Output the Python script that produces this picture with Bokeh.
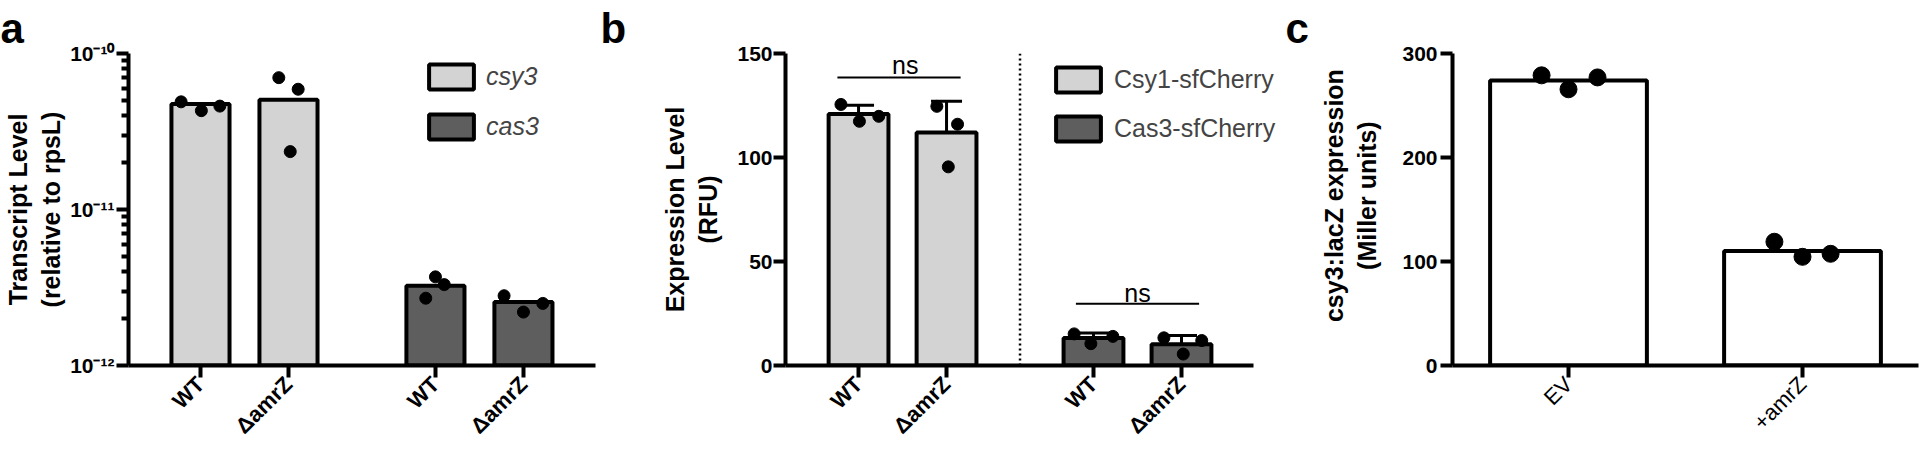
import math
import numpy as np
from bokeh.plotting import figure
from bokeh.models import (Range1d, FixedTicker, Label, Legend, LegendItem, Whisker, TeeHead,
                          Span, ColumnDataSource, CustomJSTickFormatter)
from bokeh.layouts import row
from bokeh.embed import file_html
from bokeh.resources import INLINE

# ---------------- data ----------------
# panel a (log scale transcript levels)
a_tick_labels = ["WT", "ΔamrZ", "WT", "ΔamrZ"]
a_series = ["csy3", "cas3"]
a_csy3_bar = [4.75e-11, 5.05e-11]
a_cas3_bar = [3.25e-12, 2.55e-12]
a_csy3_wt = [4.9e-11, 4.3e-11, 4.6e-11]
a_csy3_amrz = [7.0e-11, 5.9e-11, 2.35e-11]
a_cas3_wt = [2.7e-12, 3.7e-12, 3.3e-12]
a_cas3_amrz = [2.8e-12, 2.2e-12, 2.5e-12]

# panel b (RFU)
b_tick_labels = ["WT", "ΔamrZ", "WT", "ΔamrZ"]
b_series = ["Csy1-sfCherry", "Cas3-sfCherry"]
b_csy1_wt = [125.5, 117.4, 119.8]
b_csy1_amrz = [124.6, 116.0, 95.5]
b_cas3_wt = [15.2, 14.0, 10.5]
b_cas3_amrz = [13.3, 12.0, 5.5]

# panel c (Miller units)
c_tick_labels = ["EV", "+amrZ"]
c_bar = [274.0, 110.0]
c_ev = [279.0, 265.6, 277.0]
c_amrz = [119.0, 104.5, 107.4]

# ---------------- style ----------------
FONT = "Liberation Sans"
LIGHT = "#d3d3d3"
DARK = "#5e5e5e"
H = 450
TOP = 53
FRAME_H = 313
NBSP = "\u00a0"

JIT_A = [[-0.22, 0.01, 0.22], [-0.11, 0.11, 0.02], [-0.11, 0.0, 0.10], [-0.22, 0.0, 0.22]]
JIT_B = [[-0.20, 0.01, 0.23], [-0.11, 0.125, 0.02], [-0.22, 0.22, -0.03], [-0.20, 0.23, 0.02]]
JIT_C = [[-0.115, 0.0, 0.124], [-0.12, 0.0, 0.12]]


def base_fig(width, mbl, mbr, xr, yr, letter, y_axis_type="linear"):
    p = figure(width=width, height=H, x_range=xr, y_range=yr, y_axis_type=y_axis_type,
               output_backend="svg", toolbar_location=None, min_border_left=mbl,
               min_border_right=mbr, min_border_top=TOP, min_border_bottom=H - TOP - FRAME_H)
    p.outline_line_color = None
    p.xgrid.visible = False
    p.ygrid.visible = False
    p.background_fill_color = "white"
    p.border_fill_color = "white"
    for ax in (p.xaxis[0], p.yaxis[0]):
        ax.axis_line_width = 4
        ax.axis_line_color = "black"
        ax.major_tick_line_width = 4
        ax.major_tick_line_color = "black"
        ax.major_tick_out = 12
        ax.major_tick_in = 0
        ax.minor_tick_line_color = None
        ax.major_label_text_font = FONT
        ax.major_label_text_font_size = "21px"
        ax.major_label_text_font_style = "bold"
        ax.major_label_text_color = "black"
        ax.axis_label_text_font = FONT
        ax.axis_label_text_font_size = "25px"
        ax.axis_label_text_font_style = "bold"
        ax.axis_label_text_color = "black"
    p.xaxis.major_label_orientation = math.pi / 4
    p.xaxis.major_label_text_font_size = "22px"
    p.xaxis.major_label_standoff = 3
    p.title.text = letter
    p.title.align = "left"
    p.title.vertical_align = "top"
    p.title.offset = -mbl
    p.title.standoff = 0
    p.title.text_font = FONT
    p.title.text_font_size = "42px"
    p.title.text_font_style = "bold"
    p.title.text_color = "black"
    return p


# ================= panel a =================
xa = [1, 2, 3.67, 4.67]
pa = base_fig(600, 128, 5, Range1d(0.182, 0.182 + 467 / 88), Range1d(1e-12, 1e-10), "a", "log")
pa.yaxis.ticker = FixedTicker(ticks=[1e-12, 1e-11, 1e-10],
                              minor_ticks=[m * 10.0 ** e for e in (-12, -11) for m in range(2, 10)])
pa.yaxis.minor_tick_line_color = "black"
pa.yaxis.minor_tick_line_width = 4
pa.yaxis.minor_tick_out = 7
pa.yaxis.minor_tick_in = 0
pa.yaxis.major_label_standoff = 2
pa.yaxis.formatter = CustomJSTickFormatter(code="""
const sup = {'-':'⁻','0':'⁰','1':'¹','2':'²','3':'³','4':'⁴','5':'⁵','6':'⁶','7':'⁷','8':'⁸','9':'⁹'};
const e = Math.round(Math.log10(tick));
return '10' + String(e).split('').map(c => sup[c]).join('');
""")
pa.yaxis.axis_label = "Transcript Level\n(relative to rpsL)"
pa.yaxis.axis_label_standoff = 2
pa.xaxis.ticker = FixedTicker(ticks=xa)
pa.xaxis.major_label_overrides = dict(zip(xa, a_tick_labels))

r_csy3 = pa.vbar(x=xa[:2], top=a_csy3_bar, bottom=1e-12, width=0.66, fill_color=LIGHT,
                 line_color="black", line_width=4)
r_cas3 = pa.vbar(x=xa[2:], top=a_cas3_bar, bottom=1e-12, width=0.66, fill_color=DARK,
                 line_color="black", line_width=4)
for cx, pts, jit in zip(xa, [a_csy3_wt, a_csy3_amrz, a_cas3_wt, a_cas3_amrz], JIT_A):
    pa.scatter([cx + j for j in jit], pts, size=12, fill_color="black", line_color="black")

pa.add_layout(Legend(items=[LegendItem(label=a_series[0], renderers=[r_csy3]),
                            LegendItem(label=a_series[1], renderers=[r_cas3])],
                     location=(295, 223), orientation="vertical", padding=0, margin=0, spacing=19,
                     glyph_width=56, glyph_height=31, label_height=31, label_standoff=7,
                     label_text_font=FONT, label_text_font_size="25px",
                     label_text_font_style="italic", border_line_color=None,
                     background_fill_alpha=0))

# ================= panel b =================
xb = [1, 2, 3.67, 4.67]
b_x0 = 0.17
pb = base_fig(685, 185, 3, Range1d(b_x0, b_x0 + 497 / 88), Range1d(0, 150), "b")
pb.xaxis.bounds = (b_x0, b_x0 + 468 / 88)
pb.yaxis.ticker = FixedTicker(ticks=[0, 50, 100, 150])
pb.yaxis.major_label_standoff = 1
pb.yaxis.axis_label = "Expression Level\n(RFU)"
pb.yaxis.axis_label_standoff = 12
pb.xaxis.ticker = FixedTicker(ticks=xb)
pb.xaxis.major_label_overrides = dict(zip(xb, b_tick_labels))
b_groups = [b_csy1_wt, b_csy1_amrz, b_cas3_wt, b_cas3_amrz]
b_mean = [float(np.mean(g)) for g in b_groups]
b_sd = [float(np.std(g, ddof=1)) for g in b_groups]

r_csy1 = pb.vbar(x=xb[:2], top=b_mean[:2], bottom=0, width=0.68, fill_color=LIGHT,
                 line_color="black", line_width=4)
r_cas3b = pb.vbar(x=xb[2:], top=b_mean[2:], bottom=0, width=0.68, fill_color=DARK,
                  line_color="black", line_width=4)
for cx, pts, jit in zip(xb, b_groups, JIT_B):
    pb.scatter([cx + j for j in jit], pts, size=12, fill_color="black", line_color="black")
err = ColumnDataSource(dict(x=xb, upper=[m + s for m, s in zip(b_mean, b_sd)],
                            lower=[m - s for m, s in zip(b_mean, b_sd)]))
pb.add_layout(Whisker(source=err, base="x", upper="upper", lower="lower", line_width=3,
                      line_color="black",
                      upper_head=TeeHead(size=31, line_width=3, line_color="black"),
                      lower_head=TeeHead(size=31, line_width=3, line_color="black")))
pb.add_layout(Span(location=(xb[1] + xb[2]) / 2, dimension="height", line_color="black",
                   line_width=2.5, line_dash="2 3"))
# significance brackets
pb.segment(x0=[xb[0] - 0.24, xb[2] - 0.2], x1=[xb[1] + 0.16, xb[3] + 0.2], y0=[138.5, 29.7],
           y1=[138.5, 29.7], line_color="black", line_width=2)
for tx, ty in [((xb[0] + xb[1]) / 2 + 0.03, 144.6), ((xb[2] + xb[3]) / 2, 35.0)]:
    pb.add_layout(Label(x=tx, y=ty, text="ns", text_align="center", text_baseline="alphabetic",
                        text_font=FONT, text_font_size="25px", text_color="black"))
pb.add_layout(Legend(items=[LegendItem(label=b_series[0], renderers=[r_csy1]),
                            LegendItem(label=b_series[1], renderers=[r_cas3b])],
                     location=(265, 221), orientation="vertical", padding=0, margin=0, spacing=18,
                     glyph_width=56, glyph_height=31, label_height=31, label_standoff=8,
                     label_text_font=FONT, label_text_font_size="25px",
                     border_line_color=None, background_fill_alpha=0))

# ================= panel c =================
xc = [1, 2]
c_x0 = 1 - 116 / 234
pc = base_fig(634, 167, 1, Range1d(c_x0, c_x0 + 466 / 234), Range1d(0, 300), "c")
pc.yaxis.ticker = FixedTicker(ticks=[0, 100, 200, 300])
pc.yaxis.major_label_standoff = 3
pc.yaxis.axis_label = NBSP * 4 + "csy3:lacZ expression\n" + NBSP * 4 + "(Miller units)"
pc.yaxis.axis_label_standoff = 18
pc.xaxis.ticker = FixedTicker(ticks=xc)
pc.xaxis.major_label_overrides = dict(zip(xc, c_tick_labels))
pc.xaxis.major_label_text_font_style = "normal"
pc.vbar(x=xc, top=c_bar, bottom=0, width=0.67, fill_color="white", line_color="black", line_width=4)
for cx, pts, jit in zip(xc, [c_ev, c_amrz], JIT_C):
    pc.scatter([cx + j for j in jit], pts, size=17, fill_color="black", line_color="black")

layout = row(pa, pb, pc)
open("out.html", "w").write(file_html(layout, INLINE))
